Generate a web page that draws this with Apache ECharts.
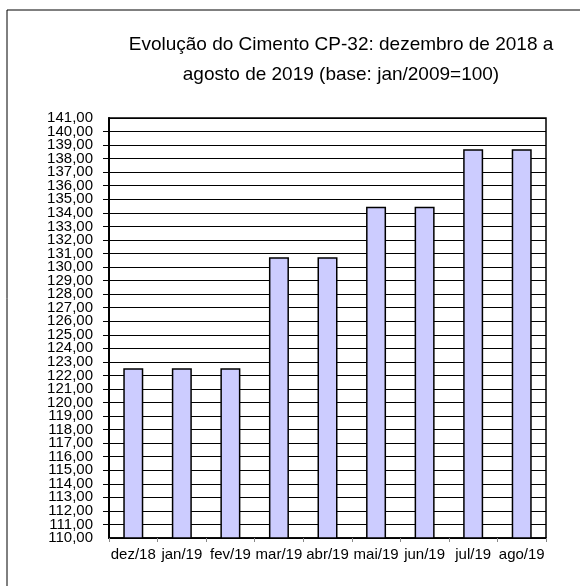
<!DOCTYPE html>
<html>
<head>
<meta charset="utf-8">
<script src="https://cdn.jsdelivr.net/npm/echarts@6/dist/echarts.min.js"></script>
<style>html,body{margin:0;padding:0;background:#fff}#c{width:580px;height:586px}</style>
</head>
<body>
<div id="c"></div>
<script>
var categories = ['dez/18','jan/19','fev/19','mar/19','abr/19','mai/19','jun/19','jul/19','ago/19'];
var values = [122.52, 122.52, 122.52, 130.72, 130.72, 134.45, 134.45, 138.69, 138.69];
var titleText = 'Evolução do Cimento CP-32: dezembro de 2018 a\nagosto de 2019 (base: jan/2009=100)';
var yMin = 110, yMax = 141, yStep = 1;

function fmt(v) { return v.toFixed(2).replace('.', ','); }
var labelFont = { fontFamily: 'Liberation Sans, Arial', fontSize: 15, color: '#000' };

var chart = echarts.init(document.getElementById('c'));
chart.setOption({
  animation: false,
  backgroundColor: '#fff',
  title: {
    text: titleText,
    left: 336, top: 25, textAlign: 'center',
    textStyle: { fontFamily: 'Liberation Sans, Arial', fontSize: 19, fontWeight: 'normal', color: '#000', lineHeight: 30 }
  },
  graphic: [{
    type: 'rect', shape: { x: 7, y: 10, width: 620, height: 620 },
    style: { fill: 'none', stroke: '#000', lineWidth: 1 }, silent: true, z: -1
  }],
  grid: { left: 109, right: 34, top: 118, bottom: 48, show: true, borderColor: '#000', borderWidth: 1.5, backgroundColor: 'transparent' },
  xAxis: {
    type: 'category', data: categories,
    axisLine: { lineStyle: { color: '#000', width: 1.5 } },
    axisTick: { show: true, alignWithLabel: false, length: 4, lineStyle: { color: '#888' } },
    axisLabel: { margin: 9, fontFamily: 'Liberation Sans, Arial', fontSize: 15, color: '#000', interval: 0 },
    splitLine: { show: false }
  },
  yAxis: [{
    type: 'value', min: yMin, max: yMax, interval: yStep, position: 'left',
    axisLine: { show: true, lineStyle: { color: '#000', width: 2 } },
    axisTick: { show: true, length: 6, lineStyle: { color: '#000' } },
    axisLabel: Object.assign({ margin: 16, showMinLabel: false, showMaxLabel: false, formatter: fmt }, labelFont),
    splitLine: { show: true, lineStyle: { color: '#000', width: 1.2 } }
  }, {
    type: 'value', min: yMin, max: yMax, interval: yMax - yMin, position: 'left', offset: 0,
    axisLine: { show: false }, axisTick: { show: false }, splitLine: { show: false },
    axisLabel: Object.assign({ margin: 16, showMinLabel: true, showMaxLabel: true, formatter: fmt }, labelFont)
  }],
  series: [{
    type: 'bar', data: values, barWidth: 20, yAxisIndex: 0,
    itemStyle: { color: '#ccccff', borderColor: '#000', borderWidth: 1.5 }
  }]
});
</script>
</body>
</html>
